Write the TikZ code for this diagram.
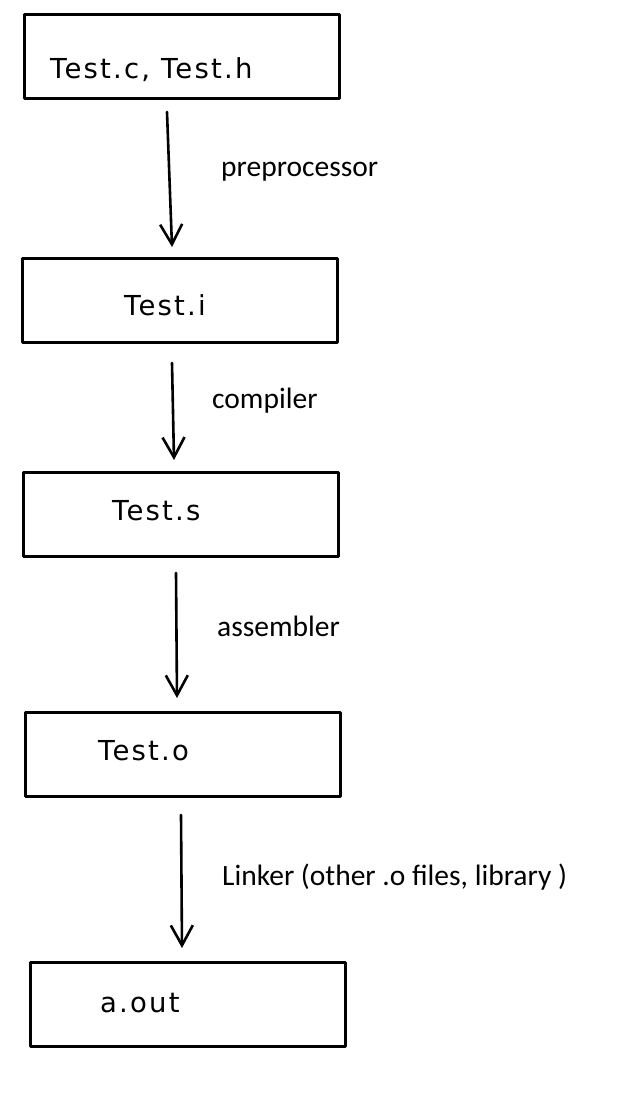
\documentclass[tikz,border=0pt]{standalone}
\usepackage{fontspec}
\setmainfont{Carlito}
\newfontfamily\boxfont[LetterSpace=8]{DejaVu Sans}
\usetikzlibrary{arrows.meta}

\tikzset{
  stage/.style={draw=black,line width=3pt,minimum width=315pt,minimum height=84pt,inner sep=0pt},
  stagetext/.style={font=\boxfont\fontsize{27.5}{32}\selectfont,inner sep=0pt},
  tool/.style={font=\fontsize{29.5}{34}\selectfont,anchor=west,inner sep=0pt},
  flow/.style={line width=2.6pt,-{Straight Barb[length=20pt,width=22pt,line width=2.6pt]}}
}

\begin{document}
\begin{tikzpicture}[line cap=round,line join=round,x=1pt,y=-1pt]
			\useasboundingbox (0,0) rectangle (624,1100);
			% the five files
			\node[stage] (src) at (181.5,56) {};
			\node[stage] (pre) at (180,300) {};
			\node[stage] (asm) at (180.5,514.5) {};
			\node[stage] (obj) at (183,754) {};
			\node[stage] (exe) at (187.5,1004) {};
			\node[stagetext,anchor=west] (srctxt) at (50,70) {Test.c, Test.h};
			\node[stagetext,anchor=west] (pretxt) at (124,305) {Test.i};
			\node[stagetext,anchor=west] (asmtxt) at (112,511) {Test.s};
			\node[stagetext,anchor=west] (objtxt) at (98,751) {Test.o};
			\node[stagetext,anchor=west] (exetxt) at (100,1003) {a.out};
			% the steps
			\coordinate (p1) at (167,112);
			\coordinate (p2) at (172,247);
			\coordinate (c1) at (172,363);
			\coordinate (c2) at (174,460);
			\coordinate (a1) at (176,573);
			\coordinate (a2) at (177,698);
			\coordinate (l1) at (181,815);
			\coordinate (l2) at (182,948);
			\draw [flow] (p1) -- (p2);
			\draw [flow] (c1) -- (c2);
			\draw [flow] (a1) -- (a2);
			\draw [flow] (l1) -- (l2);
			\node[tool] (pp) at (221,172) {preprocessor};
			\node[tool] (cc) at (212,401) {compiler};
			\node[tool] (as) at (217,626) {assembler};
			\node[tool] (ld) at (222,877) {Linker (other .o files, library )};
\end{tikzpicture}
\end{document}
